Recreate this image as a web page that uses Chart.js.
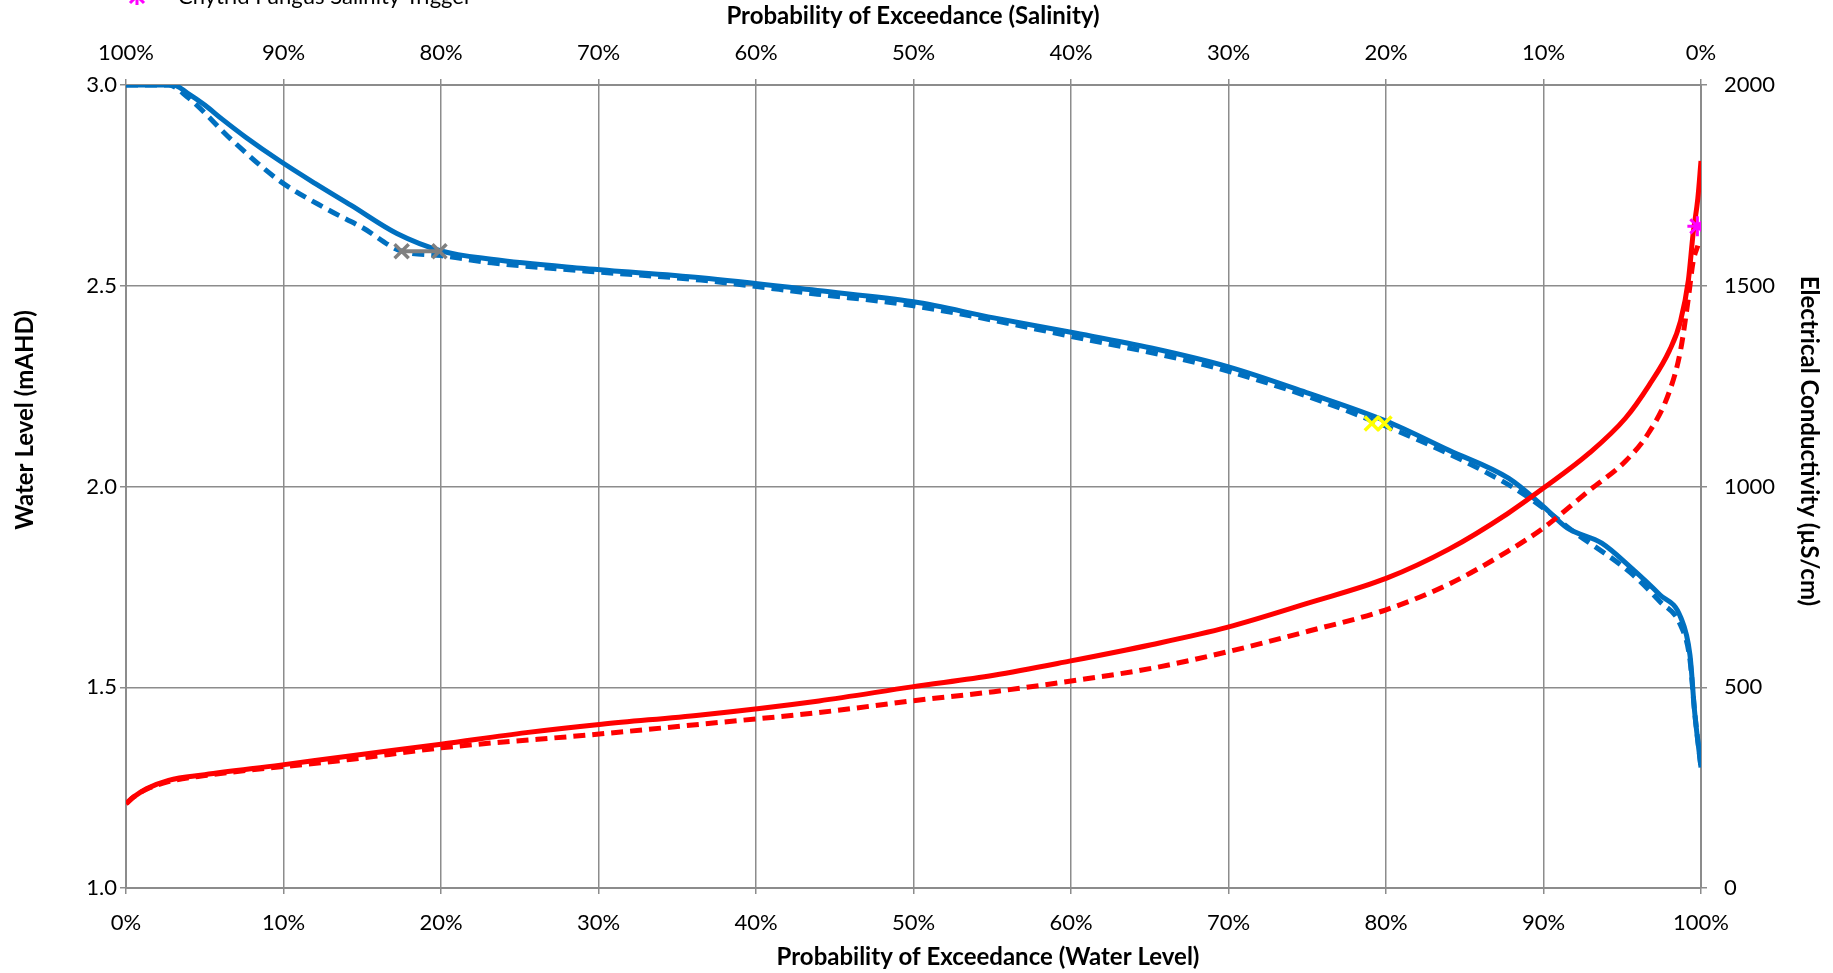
<!DOCTYPE html>
<html>
<head>
<meta charset="utf-8">
<title>Water level and salinity exceedance</title>
<script src="https://cdn.jsdelivr.net/npm/chart.js@4.4.1/dist/chart.umd.min.js"></script>
<style>
  html, body { margin: 0; padding: 0; background: #fff; }
  #wrap { width: 1833px; height: 973px; position: relative; }
</style>
</head>
<body>
<div id="wrap"><canvas id="exceedanceChart"></canvas></div>
<script>
// Water level exceedance curves (bottom axis %, left axis mAHD)
const wlPct = [0, 3, 3.9, 5, 6.1, 7.6, 9.8, 12, 14.3, 17.2, 20, 23.2, 29.1, 36.5, 43.9, 50, 55.1, 60, 65.1, 70, 75.1, 80, 84, 87.8, 90, 91.5, 93.7, 95.5, 97.4, 98.7, 99.3, 99.6, 100];
const wlBase = [3.0, 3.0, 2.98, 2.95, 2.915, 2.87, 2.81, 2.755, 2.70, 2.63, 2.587, 2.566, 2.543, 2.52, 2.488, 2.46, 2.42, 2.384, 2.345, 2.298, 2.232, 2.163, 2.09, 2.02, 1.95, 1.897, 1.859, 1.80, 1.73, 1.675, 1.58, 1.437, 1.30];

const wlPctAlt = [0, 2.7, 3.9, 6.8, 9.8, 12.8, 15, 17.5, 20, 23.2, 29.1, 36.5, 43.9, 50, 60, 70, 80, 87.8, 90, 91.9, 95.5, 97.4, 98.7, 99.3, 99.6, 100];
const wlAlt = [3.0, 3.0, 2.97, 2.86, 2.76, 2.69, 2.645, 2.586, 2.575, 2.557, 2.537, 2.514, 2.479, 2.45, 2.374, 2.287, 2.15, 2.004, 1.946, 1.888, 1.786, 1.713, 1.655, 1.568, 1.437, 1.30];

// Salinity exceedance curves (top axis %, right axis EC)
const ecPct = [100, 99.5, 98.7, 97.3, 95, 90.2, 85.8, 80, 74.6, 69.8, 63.5, 56, 50.1, 44.9, 40.1, 34.9, 30.1, 24.9, 20, 16, 12.3, 10, 7.1, 4.8, 3.3, 2.0, 1.3, 0.8, 0.5, 0.2, 0];
const ecBase = [210, 227, 247, 268, 282, 306, 329, 358, 387, 408, 431, 466, 501, 530, 565, 606, 649, 710, 771, 844, 932, 996, 1083, 1170, 1252, 1339, 1412, 1514, 1630, 1718, 1811];

const ecPctAlt = [100, 99.5, 98.7, 97.3, 95, 85.8, 80, 69.8, 63.5, 56, 50.1, 44.9, 40.1, 34.9, 30.1, 24.9, 20, 16, 12.3, 10, 7.1, 4.8, 3.3, 2.0, 1.3, 0.8, 0.5, 0.2];
const ecAlt = [210, 227, 246, 265, 280, 320, 349, 384, 408, 437, 466, 489, 515, 547, 588, 640, 693, 757, 838, 897, 990, 1063, 1135, 1237, 1339, 1470, 1560, 1600];

// Trigger markers
const lowLevelPct = [17.5, 19.9];
const lowLevel = [2.586, 2.586];
const midLevelPct = [79.1, 79.9];
const midLevel = [2.157, 2.157];
const chytridPct = [0.23];
const chytridEC = [1648];

const pctTicks = [0, 10, 20, 30, 40, 50, 60, 70, 80, 90, 100];

const pairs = (xs, ys) => xs.map((x, i) => ({ x: x, y: ys[i] }));

const BLUE = '#0070c0';
const RED = '#ff0000';
const GRID = '#8c8c8c';
const FONT = 'Lato';
const TICK_FONT = { family: FONT, size: 22 };

// Axis titles and the top legend row are drawn by hand
const chartText = {
  id: 'chartText',
  afterDraw(chart) {
    const ctx = chart.ctx;
    ctx.save();
    ctx.fillStyle = '#000';
    ctx.textAlign = 'center';
    ctx.textBaseline = 'middle';
    ctx.font = 'bold 24px ' + FONT;
    ctx.fillText('Probability of Exceedance (Salinity)', 913, 16);
    ctx.fillText('Probability of Exceedance (Water Level)', 988, 957);

    ctx.save();
    ctx.translate(25, 420);
    ctx.rotate(-Math.PI / 2);
    ctx.fillText('Water Level (mAHD)', 0, 0);
    ctx.restore();

    ctx.save();
    ctx.translate(1809, 441);
    ctx.rotate(Math.PI / 2);
    ctx.fillText('Electrical Conductivity (µS/cm)', 0, 0);
    ctx.restore();

    // legend entry (sits above the canvas edge)
    ctx.textAlign = 'left';
    ctx.textBaseline = 'alphabetic';
    ctx.font = '22px ' + FONT;
    ctx.fillText('Chytrid Fungus Salinity Trigger', 178, 4);
    ctx.strokeStyle = '#ff00ff';
    ctx.lineWidth = 3;
    ctx.beginPath();
    ctx.moveTo(130, -11); ctx.lineTo(144, 3);
    ctx.moveTo(144, -11); ctx.lineTo(130, 3);
    ctx.moveTo(137, -13); ctx.lineTo(137, 5);
    ctx.stroke();
    ctx.restore();
  }
};

const fixSize = (prop, size) => (scale) => { scale[prop] = size; };

const ctx = document.getElementById('exceedanceChart').getContext('2d');
const exceedanceChart = new Chart(ctx, {
  type: 'line',
  data: {
    datasets: [
      {
        label: 'Chytrid Fungus Salinity Trigger',
        data: pairs(chytridPct, chytridEC),
        xAxisID: 'x2', yAxisID: 'y2',
        showLine: false,
        pointStyle: 'star', pointRadius: 10, pointBorderWidth: 3,
        borderColor: '#ff00ff', backgroundColor: '#ff00ff',
        order: 0
      },
      {
        label: 'Mid Water Level Trigger',
        data: pairs(midLevelPct, midLevel),
        showLine: false,
        pointStyle: 'crossRot', pointRadius: 10, pointBorderWidth: 3.5,
        borderColor: '#ffff00', backgroundColor: '#ffff00',
        order: 0
      },
      {
        label: 'Low Water Level Trigger',
        data: pairs(lowLevelPct, lowLevel),
        borderColor: '#808080', backgroundColor: '#808080',
        borderWidth: 4,
        pointStyle: 'crossRot', pointRadius: 10, pointBorderWidth: 3.5,
        order: 0
      },
      {
        label: 'Salinity',
        data: pairs(ecPct, ecBase),
        xAxisID: 'x2', yAxisID: 'y2',
        borderColor: RED, borderWidth: 5,
        pointRadius: 0, cubicInterpolationMode: 'monotone',
        order: 1
      },
      {
        label: 'Salinity (scenario)',
        data: pairs(ecPctAlt, ecAlt),
        xAxisID: 'x2', yAxisID: 'y2',
        borderColor: RED, borderWidth: 5, borderDash: [12, 7],
        pointRadius: 0, cubicInterpolationMode: 'monotone',
        order: 2
      },
      {
        label: 'Water Level',
        data: pairs(wlPct, wlBase),
        borderColor: BLUE, borderWidth: 5,
        pointRadius: 0, cubicInterpolationMode: 'monotone',
        order: 3
      },
      {
        label: 'Water Level (scenario)',
        data: pairs(wlPctAlt, wlAlt),
        borderColor: BLUE, borderWidth: 5, borderDash: [12, 7],
        pointRadius: 0, cubicInterpolationMode: 'monotone',
        order: 4
      }
    ]
  },
  options: {
    responsive: true,
    maintainAspectRatio: false,
    animation: false,
    layout: { padding: 0 },
    plugins: {
      legend: { display: false },
      tooltip: { enabled: false }
    },
    scales: {
      x: {
        type: 'linear', position: 'bottom',
        min: 0, max: 100,
        afterFit: fixSize('height', 85),
        afterBuildTicks: (scale) => { scale.ticks = pctTicks.map(v => ({ value: v })); },
        ticks: { padding: 16, color: '#000', font: TICK_FONT, callback: v => v + '%' },
        grid: { color: GRID, lineWidth: 1.5, tickLength: 6 },
        border: { color: GRID, width: 2 }
      },
      x2: {
        type: 'linear', position: 'top',
        min: 0, max: 100, reverse: true,
        afterFit: fixSize('height', 85),
        afterBuildTicks: (scale) => { scale.ticks = pctTicks.map(v => ({ value: v })); },
        ticks: { padding: 13, color: '#000', font: TICK_FONT, callback: v => v + '%' },
        grid: { drawOnChartArea: false, color: GRID, lineWidth: 1.5, tickLength: 6 },
        border: { color: GRID, width: 2 }
      },
      y: {
        type: 'linear', position: 'left',
        min: 1, max: 3,
        afterFit: fixSize('width', 126),
        ticks: { stepSize: 0.5, padding: 3, color: '#000', font: TICK_FONT, callback: v => v.toFixed(1) },
        grid: { color: GRID, lineWidth: 1.5, tickLength: 6 },
        border: { color: GRID, width: 2 }
      },
      y2: {
        type: 'linear', position: 'right',
        min: 0, max: 2000,
        afterFit: fixSize('width', 132),
        ticks: { stepSize: 500, padding: 17, color: '#000', font: TICK_FONT, callback: v => String(v) },
        grid: { drawOnChartArea: false, color: GRID, lineWidth: 1.5, tickLength: 6 },
        border: { color: GRID, width: 2 }
      }
    }
  },
  plugins: [chartText]
});
</script>
</body>
</html>
